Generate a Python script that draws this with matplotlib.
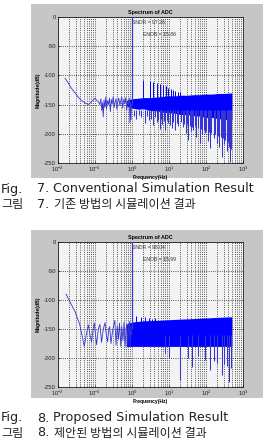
import numpy as np
import matplotlib
matplotlib.use("Agg")
import matplotlib.pyplot as plt
from matplotlib.patches import Rectangle
from matplotlib.ticker import LogLocator, FixedLocator

# ---------------- data ----------------
# Panel 1 (conventional): sparse low-frequency part of the spectrum
p1_low_f = [0.0155, 0.019, 0.023, 0.029, 0.035, 0.043, 0.054, 0.066, 0.081, 0.10, 0.112, 0.123,
            0.135, 0.145, 0.152, 0.160, 0.167, 0.175, 0.185, 0.195, 0.205, 0.215, 0.23, 0.245,
            0.26, 0.275, 0.29, 0.31, 0.33, 0.35, 0.37, 0.39, 0.41, 0.44, 0.47, 0.50, 0.53,
            0.56, 0.60, 0.64, 0.68, 0.72, 0.76, 0.80, 0.84, 0.88, 0.91, 0.94, 0.97]
p1_low_db = [-105, -113, -122, -130, -137, -143, -147, -150, -145, -139, -143, -145,
             -150, -140, -160, -147, -171, -142, -155, -137, -158, -143, -150, -139,
             -162, -141, -149, -137, -155, -145, -140, -158, -146, -139, -152, -143, -137,
             -156, -141, -148, -138, -160, -144, -150, -139, -181, -145, -176, -150]
# Panel 1: dense noise band (frequency, upper edge, lower edge)
p1_band_f = [0.7, 1.0, 1.5, 2.0, 3.0, 5.0, 7.0, 10, 15, 20, 30, 50, 70, 100, 150, 200, 300, 500]
p1_band_hi = [-143, -140, -139, -138, -138, -137, -136, -135, -135, -134, -134, -133, -133, -132, -132, -131, -131, -130]
p1_band_lo = [-152, -156, -158, -157, -160, -161, -163, -164, -165, -167, -167, -169, -170, -172, -172, -174, -175, -176]
# Panel 1: harmonic spurs above the band
p1_spur_f = [2.0, 3.0, 3.6, 4.6, 5.7, 7.0, 8.2, 9.4, 11, 12.5, 14.5, 17, 20]
p1_spur_db = [-108, -110, -111, -113, -115, -117, -119, -122, -124, -125, -126, -128, -129]
# Panel 1: deep notches below the band
p1_notch_f = [1.1, 1.3, 1.5, 1.8, 2.2, 2.5, 2.8, 3.2, 3.8, 4.3, 4.8, 5.2, 5.7, 6.2, 6.6, 7.2,
              7.8, 8.6, 9.5, 10.5, 12, 13, 14.5, 16, 18, 21, 24, 26, 28, 30, 33, 36, 39, 42,
              45, 50, 55, 61, 69, 75, 80, 87, 94, 102, 110, 118, 128, 140, 160, 175, 195, 212,
              230, 248, 264, 285, 310, 335, 360, 380, 400, 425, 445, 465, 480]
p1_notch_db = [-170, -175, -168, -172, -182, -170, -176, -174, -185, -172, -180, -176, -191,
               -175, -183, -178, -193, -177, -181, -185, -190, -180, -193, -182, -186, -180,
               -188, -183, -198, -184, -210, -186, -196, -188, -193, -187, -205, -190, -216,
               -192, -200, -194, -199, -196, -212, -197, -225, -198, -208, -200, -216, -204,
               -222, -206, -239, -208, -218, -210, -230, -212, -214, -222, -248, -215, -226]

# Panel 2 (proposed)
p2_low_f = [0.0165, 0.021, 0.0288, 0.039, 0.0513, 0.058, 0.066, 0.073, 0.081, 0.089, 0.096,
            0.11, 0.123, 0.136, 0.15, 0.168, 0.186, 0.20, 0.22, 0.235, 0.25, 0.27, 0.30,
            0.345, 0.37, 0.40, 0.43, 0.46, 0.50, 0.53, 0.57, 0.61, 0.65, 0.69, 0.73, 0.77,
            0.81, 0.85, 0.89, 0.93, 0.97]
p2_low_db = [-90, -103, -120, -143, -180, -160, -143, -160, -172, -150, -140,
             -177, -150, -142, -173, -150, -139, -158, -172, -150, -146, -175, -152,
             -135, -178, -145, -168, -140, -180, -146, -170, -138, -180, -150, -141, -178,
             -147, -137, -180, -145, -160]
p2_band_f = [0.7, 1.0, 2.0, 5.0, 10, 20, 50, 100, 200, 500]
p2_band_hi = [-142, -138, -136, -135, -134, -133, -132, -131, -130, -129]
p2_band_lo = [-180, -180, -180, -180, -180, -180, -180, -180, -180, -180]
p2_spur_f = [1.3, 1.7, 2.2, 2.8, 3.5, 4.3]
p2_spur_db = [-128, -130, -129, -131, -132, -131]
p2_notch_f = [7.7, 10, 20, 33, 41, 62, 94, 128, 160, 195, 264, 300, 360, 430, 470]
p2_notch_db = [-192, -200, -238, -200, -215, -197, -203, -221, -205, -209, -229, -210, -214, -241, -217]

# Fundamental and annotations
fund_f = 0.98
sndr_text = ["SNDR = 97.26", "SNDR = 98.04"]
enob_text = ["ENOB = 15.86", "ENOB = 15.99"]
fig_num = ["7.", "8."]
cap_en = ["Conventional Simulation Result", "Proposed Simulation Result"]
cap_ko = ["기존 방법의 시뮬레이션 결과", "제안된 방법의 시뮬레이션 결과"]
yticks = [0, -50, -100, -150, -200, -250]
xticks = [1e-2, 1e-1, 1e0, 1e1, 1e2, 1e3]
xticklabels = [r"$10^{-2}$", r"$10^{-1}$", r"$10^{0}$", r"$10^{1}$", r"$10^{2}$", r"$10^{3}$"]

panels = [
    (p1_low_f, p1_low_db, p1_band_f, p1_band_hi, p1_band_lo, p1_spur_f, p1_spur_db, p1_notch_f, p1_notch_db),
    (p2_low_f, p2_low_db, p2_band_f, p2_band_hi, p2_band_lo, p2_spur_f, p2_spur_db, p2_notch_f, p2_notch_db),
]

# ---------------- figure ----------------
plt.rcParams["mathtext.fontset"] = "custom"
plt.rcParams["mathtext.rm"] = "Liberation Sans"
plt.rcParams["mathtext.it"] = "Liberation Sans"
W, H = 266, 443
fig = plt.figure(figsize=(W / 100, H / 100), dpi=100)
fig.patch.set_facecolor("white")

def fx(px):
    return px / W

def fy(py):
    return 1 - py / H

gray_boxes = [(31, 4, 263, 178), (31, 230, 263, 398)]
axes_boxes = [(58, 17, 243, 163), (58, 242, 243, 387)]
cap_y = [(189, 204), (418, 433)]

BLUE = "#0000ff"
LINE = "#3535d5"
fam_en = ["DejaVu Sans"]
fam_ko = ["Noto Sans CJK KR", "DejaVu Sans"]
fam_ax = ["Liberation Sans", "DejaVu Sans"]

for i, (lf, ldb, bf, bhi, blo, sf, sdb, nf, ndb) in enumerate(panels):
    gx0, gy0, gx1, gy1 = gray_boxes[i]
    fig.patches.append(Rectangle((fx(gx0), fy(gy1)), fx(gx1 - gx0), (gy1 - gy0) / H,
                                 transform=fig.transFigure, facecolor="#c6c6c6",
                                 edgecolor="none", zorder=-10))
    ax0, ay0, ax1, ay1 = axes_boxes[i]
    ax = fig.add_axes([fx(ax0), fy(ay1), fx(ax1 - ax0), (ay1 - ay0) / H])
    ax.set_zorder(5)
    ax.set_facecolor("#f3f3f3")
    ax.set_xscale("log")
    ax.set_xlim(1e-2, 1e3)
    ax.set_ylim(-250, 0)

    # spectrum
    ax.fill_between(bf, blo, bhi, color=BLUE, lw=0, zorder=3)
    ax.vlines(sf, -145, sdb, color=BLUE, lw=0.7, zorder=3)
    ax.vlines(nf, -160, ndb, color=LINE, lw=0.75, zorder=3)
    ax.plot(lf, ldb, color=LINE, lw=0.6, zorder=3)
    ax.vlines([fund_f], -150, 0, color=LINE, lw=0.9, zorder=4)

    # grid & ticks
    ax.xaxis.set_major_locator(FixedLocator(xticks))
    ax.set_xticklabels(xticklabels, family=fam_ax)
    ax.xaxis.set_minor_locator(LogLocator(base=10, subs=np.arange(2, 10), numticks=20))
    ax.set_yticks(yticks)
    ax.set_yticklabels([str(v) for v in yticks], family=fam_ax)
    ax.grid(True, which="major", ls=":", color="#222222", lw=0.6)
    ax.grid(True, which="minor", axis="x", ls=":", color="#222222", lw=0.6)
    ax.tick_params(which="both", labelsize=4.2, length=1.5, width=0.4, direction="in",
                   labelcolor="#222222")
    ax.tick_params(axis="x", pad=1.2)
    ax.tick_params(axis="y", pad=1.5)
    ax.tick_params(which="minor", length=1)
    for s in ax.spines.values():
        s.set_linewidth(0.5)

    ax.set_title("Spectrum of ADC", fontsize=3.9, fontweight="bold", pad=2.5, family=fam_ax)
    ax.set_xlabel("Frequency(Hz)", fontsize=3.6, fontweight="bold", labelpad=0.8, family=fam_ax)
    ax.set_ylabel("Magnitude(dB)", fontsize=3.6, fontweight="bold", labelpad=2.5, family=fam_ax)

    ax.text(1.0, -9.5, sndr_text[i], fontsize=3.7, color="#333333", va="center", ha="left",
            zorder=2, family=fam_ax)
    ax.text(2.0, -30, enob_text[i], fontsize=3.7, color="#333333", va="center", ha="left",
            zorder=2, family=fam_ax)

    # captions
    y1, y2 = cap_y[i]
    fig.text(fx(1), fy(y1), "Fig.", fontsize=9.2, family=fam_en, va="center", ha="left", color="#222222")
    fig.text(fx(37), fy(y1), fig_num[i], fontsize=9.2, family=fam_en, va="center", ha="left", color="#222222")
    fig.text(fx(53), fy(y1), cap_en[i], fontsize=9.2, family=fam_en, va="center", ha="left", color="#222222")
    fig.text(fx(1), fy(y2), "그림", fontsize=8.7, family=fam_ko, va="center", ha="left", color="#222222")
    fig.text(fx(37), fy(y2), fig_num[i], fontsize=9.2, family=fam_en, va="center", ha="left", color="#222222")
    fig.text(fx(54), fy(y2), cap_ko[i], fontsize=8.7, family=fam_ko, va="center", ha="left", color="#222222")

fig.savefig("out.png", dpi=100, facecolor="white")
